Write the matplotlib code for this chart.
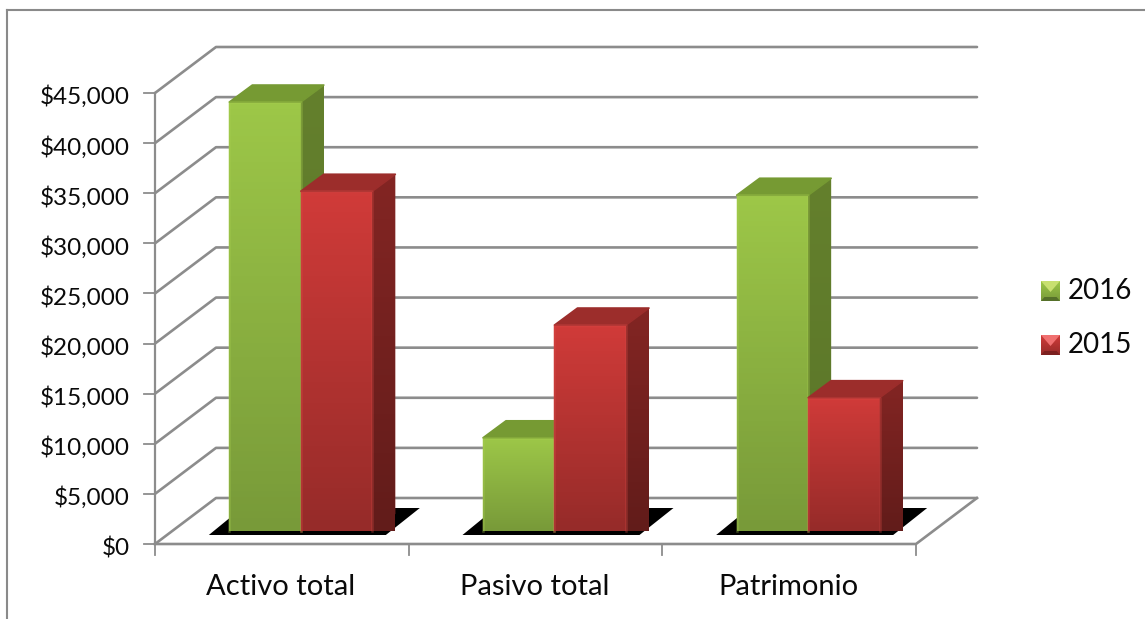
import matplotlib
matplotlib.use('Agg')
from matplotlib import pyplot as plt
from matplotlib.patches import Polygon
from matplotlib.transforms import ScaledTranslation
import numpy as np

categories = ['Activo total', 'Pasivo total', 'Patrimonio']
years = ['2016', '2015']
values_2016 = [42800, 9300, 33500]
values_2015 = [33900, 20550, 13300]
y_ticks = list(range(0, 50000, 5000))

W, H = 1145, 619
# front plane of the box, in pixels
X0, X1 = 155, 916
Y0, Y1 = 544, 93
PX = 3 / (X1 - X0)  # categories per pixel
PY = 45000 / (Y0 - Y1)  # dollars per pixel

GRID = '#8c8c8c'
TEXT = '#0a0a0a'
GREEN = dict(top='#9dc748', bottom='#789a39', side='#64802d', side2='#5a7528', cap='#769a33', edge='#a9d050',
             light='#c8e070', dark='#55702a')
RED = dict(top='#d03b39', bottom='#962b29', side='#832523', side2='#621c1a', cap='#9c2d2b', edge='#d94a47',
           light='#f07070', dark='#7c201f')

plt.rcParams['font.family'] = ['Lato', 'DejaVu Sans']
fig = plt.figure(figsize=(W / 100, H / 100), dpi=100)
fig.patch.set_facecolor('white')

# outer frame of the chart
fig.add_artist(plt.Line2D([7 / W, 7 / W], [0, 1 - 10 / H], color='#8a8a8a', lw=1.5))
fig.add_artist(plt.Line2D([7 / W, 1], [1 - 10 / H, 1 - 10 / H], color='#8a8a8a', lw=1.5))

ax = fig.add_axes([X0 / W, 1 - Y0 / H, (X1 - X0) / W, (Y0 - Y1) / H])
ax.set_xlim(0, 3)
ax.set_ylim(0, 45000)
ax.patch.set_alpha(0)
for s in ax.spines.values():
    s.set_visible(False)

DX = 61 * PX  # depth of the box
DY = 46 * PY

# grid on the back wall and on the side wall
for v in y_ticks:
    ax.plot([0, DX, 3 + DX], [v, v + DY, v + DY], color=GRID, lw=1.9, clip_on=False, zorder=1, solid_capstyle='round')
    ax.plot([-11 * PX, 0], [v, v], color=GRID, lw=1.3, clip_on=False, zorder=1)
# floor and axes
ax.plot([0, 0], [0, 45000], color=GRID, lw=1.6, clip_on=False, zorder=1)
ax.plot([0, 3, 3 + DX], [0, 0, DY], color=GRID, lw=1.9, clip_on=False, zorder=1)
for c in range(4):
    ax.plot([c, c], [0, -11 * PY], color=GRID, lw=1.3, clip_on=False, zorder=1)

ax.set_xticks([])
ax.set_yticks(y_ticks)
ax.set_yticklabels(['${:,}'.format(v) for v in y_ticks], fontsize=17.5, color=TEXT)
ax.tick_params(axis='y', length=0, pad=18)
down = ScaledTranslation(0, -2 / 100, fig.dpi_scale_trans)
for lbl in ax.get_yticklabels():
    lbl.set_transform(lbl.get_transform() + down)
for i, name in enumerate(categories):
    ax.text(i + 0.5 - 1 * PX, -43 * PY, name, ha='center', va='center', fontsize=21, color=TEXT)


def grad(c1, c2, n=64):
    a = np.array(matplotlib.colors.to_rgb(c1))
    b = np.array(matplotlib.colors.to_rgb(c2))
    t = np.linspace(0, 1, n)[:, None, None]
    return a[None, None, :] * (1 - t) + b[None, None, :] * t


def bar3d(x, v, col, z):
    # x, v are the lower left corner offset into the box
    bw = 71.5 * PX
    ox = 19 * PX + x
    oy = 13 * PY
    sx = 23 * PX
    sy = 17 * PY
    top = oy + v
    ax.imshow(grad(col['top'], col['bottom']), extent=[ox, ox + bw, oy, top], aspect='auto', zorder=z, clip_on=False)
    # side face
    side = Polygon([[ox + bw, oy], [ox + bw + sx, oy + sy], [ox + bw + sx, top + sy], [ox + bw, top]],
                   closed=True, fc=col['side'], ec='none', zorder=z, clip_on=False)
    ax.add_patch(side)
    g = ax.imshow(grad(col['side'], col['side2']), extent=[ox + bw, ox + bw + sx, oy, top + sy], aspect='auto',
                  zorder=z, clip_on=False)
    g.set_clip_path(side)
    ax.add_patch(Polygon([[ox, top], [ox + bw, top], [ox + bw + sx, top + sy], [ox + sx, top + sy]],
                         closed=True, fc=col['cap'], ec=col['cap'], lw=1.2, joinstyle='round', zorder=z, clip_on=False))
    # light rim of the bevel, not on the bottom edge
    ax.plot([ox, ox, ox + bw, ox + bw], [oy, top, top, oy], color=col['edge'], lw=1.8, alpha=0.35, zorder=z + 0.1,
            clip_on=False, solid_joinstyle='round')


for i in range(3):
    # shadow on the floor
    cx = i + 0.5
    ax.add_patch(Polygon([[cx - 73 * PX, 9 * PY], [cx + 104 * PX, 9 * PY], [cx + 138 * PX, 36 * PY],
                          [cx - 40 * PX, 36 * PY]], closed=True, fc='black', ec='none', zorder=2, clip_on=False))
    bar3d(i + 0.5 - 71.5 * PX, values_2016[i], GREEN, 4)
    bar3d(i + 0.5, values_2015[i], RED, 5)

ax.set_xlim(0, 3)
ax.set_ylim(0, 45000)

# legend, drawn in figure pixels
for name, yp, col in zip(years, [290, 344], [GREEN, RED]):
    lax = fig.add_axes([1041 / W, 1 - (yp + 11) / H, 19 / W, 20 / H])
    lax.set_xlim(0, 1)
    lax.set_ylim(0, 1)
    lax.set_axis_off()
    lax.imshow(grad(col['top'], col['bottom']), extent=[0, 1, 0, 1], aspect='auto')
    lax.add_patch(Polygon([[0, 1], [1, 1], [0.5, 0.45]], fc=col['light'], ec='none'))
    lax.add_patch(Polygon([[0, 0], [1, 0], [0.82, 0.2], [0.18, 0.2]], fc=col['dark'], ec='none'))
    lax.set_xlim(0, 1)
    lax.set_ylim(0, 1)
    fig.text(1068 / W, 1 - (yp + 1) / H, name, fontsize=20, va='center', ha='left', color=TEXT)

fig.savefig('out.png', dpi=100)
